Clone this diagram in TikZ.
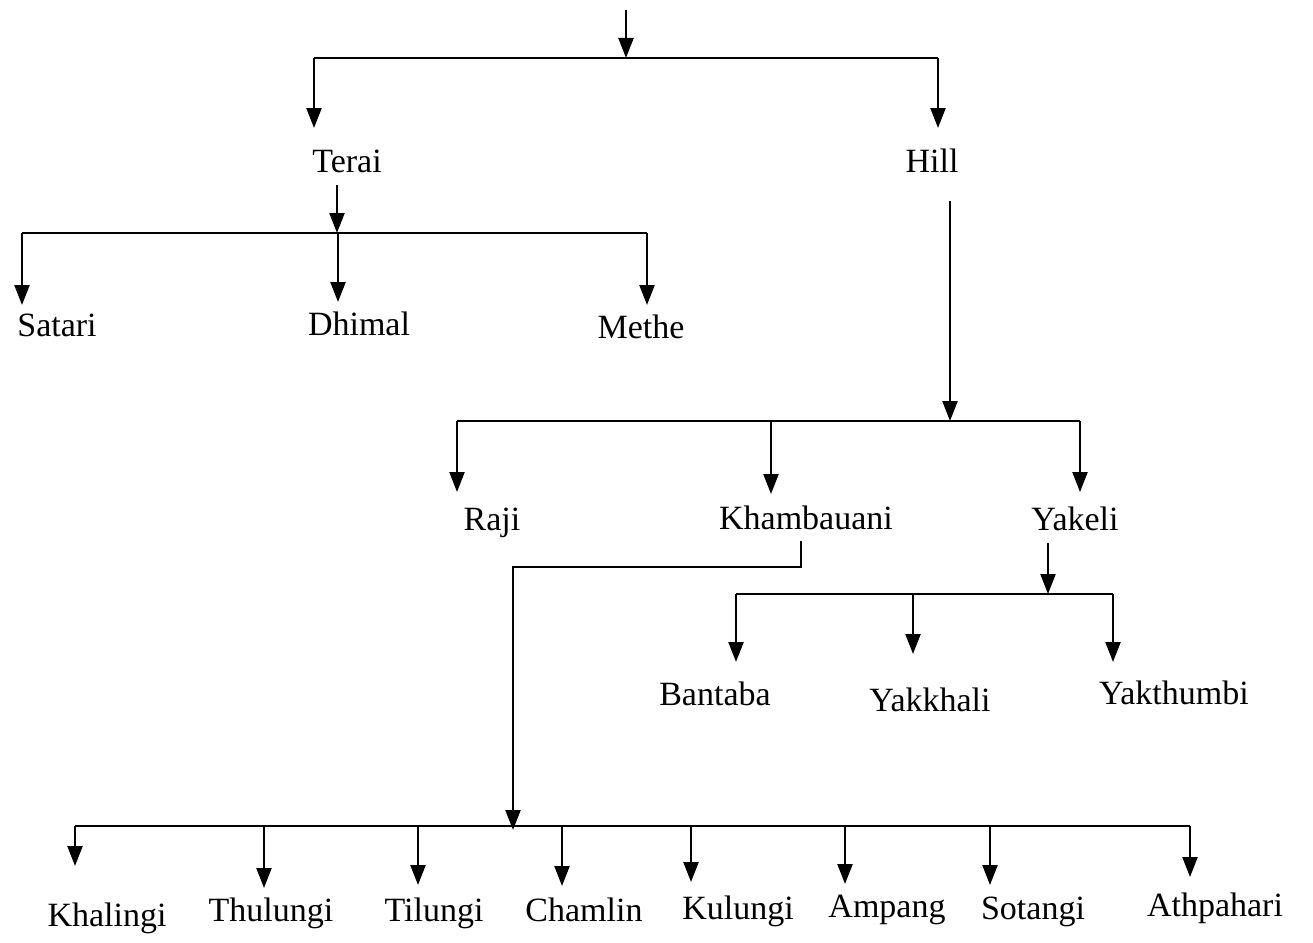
\documentclass[tikz,border=0pt]{standalone}
\usepackage{fontspec}
\setmainfont{Liberation Serif}
\usetikzlibrary{arrows.meta}
\tikzset{
  lbl/.style={anchor=base, inner sep=0pt, font=\fontsize{34}{40}\selectfont},
  ln/.style={line width=2.3pt},
  arr/.style={line width=2.3pt, -{Triangle[width=15pt,length=20pt]}},
}
\begin{document}
\begin{tikzpicture}[x=1pt,y=-1pt]
\useasboundingbox (0,0) rectangle (1313,942);
% labels
\node[lbl] (terai) at (347,172) {Terai};
\node[lbl] (hill) at (932,172) {Hill};
\node[lbl] (satari) at (57,336) {Satari};
\node[lbl] (dhimal) at (359,335) {Dhimal};
\node[lbl] (methe) at (641,338) {Methe};
\node[lbl] (raji) at (492,530) {Raji};
\node[lbl] (kham) at (806,529) {Khambauani};
\node[lbl] (yakeli) at (1075,530) {Yakeli};
\node[lbl] (bantaba) at (715,705) {Bantaba};
\node[lbl] (yakkhali) at (930,711) {Yakkhali};
\node[lbl] (yakthumbi) at (1174,704) {Yakthumbi};
\node[lbl] (khalingi) at (107,926) {Khalingi};
\node[lbl] (thulungi) at (271,921) {Thulungi};
\node[lbl] (tilungi) at (434,921) {Tilungi};
\node[lbl] (chamlin) at (584,921) {Chamlin};
\node[lbl] (kulungi) at (738,919) {Kulungi};
\node[lbl] (ampang) at (887,917) {Ampang};
\node[lbl] (sotangi) at (1033,919) {Sotangi};
\node[lbl] (athpahari) at (1215,916) {Athpahari};
% coordinates
\coordinate (top) at (626,10);
\coordinate (bus0) at (626,58);
\coordinate (teraiTip) at (314,128);
\coordinate (hillTip) at (938,128);
\coordinate (teraiOut) at (337,185);
\coordinate (bus1) at (337,233);
\coordinate (satariTip) at (22,305);
\coordinate (dhimalTip) at (338,302);
\coordinate (metheTip) at (647,305);
\coordinate (hillOut) at (950,201);
\coordinate (bus2) at (950,421);
\coordinate (rajiTip) at (457,492);
\coordinate (khamTip) at (771,494);
\coordinate (yakeliTip) at (1080,492);
\coordinate (khamOut) at (801,541);
\coordinate (khamBend) at (801,567);
\coordinate (bus4) at (513,830);
\coordinate (yakeliOut) at (1048,543);
\coordinate (bus3) at (1048,594);
\coordinate (bantabaTip) at (736,662);
\coordinate (yakkhaliTip) at (913,654);
\coordinate (yakthumbiTip) at (1113,662);
\coordinate (khalingiTip) at (75,866);
\coordinate (thulungiTip) at (264,888);
\coordinate (tilungiTip) at (418,885);
\coordinate (chamlinTip) at (562,886);
\coordinate (kulungiTip) at (691,882);
\coordinate (ampangTip) at (845,884);
\coordinate (sotangiTip) at (990,885);
\coordinate (athpahariTip) at (1190,877);
% top level
\draw[arr] (top) -- (bus0);
\draw[ln] (teraiTip |- bus0) -- (hillTip |- bus0);
\draw[arr] (teraiTip |- bus0) -- (teraiTip);
\draw[arr] (hillTip |- bus0) -- (hillTip);
% Terai
\draw[arr] (teraiOut) -- (bus1);
\draw[ln] (satariTip |- bus1) -- (metheTip |- bus1);
\draw[arr] (satariTip |- bus1) -- (satariTip);
\draw[arr] (dhimalTip |- bus1) -- (dhimalTip);
\draw[arr] (metheTip |- bus1) -- (metheTip);
% Hill
\draw[arr] (hillOut) -- (bus2);
\draw[ln] (rajiTip |- bus2) -- (yakeliTip |- bus2);
\draw[arr] (rajiTip |- bus2) -- (rajiTip);
\draw[arr] (khamTip |- bus2) -- (khamTip);
\draw[arr] (yakeliTip |- bus2) -- (yakeliTip);
% Yakeli
\draw[arr] (yakeliOut) -- (bus3);
\draw[ln] (bantabaTip |- bus3) -- (yakthumbiTip |- bus3);
\draw[arr] (bantabaTip |- bus3) -- (bantabaTip);
\draw[arr] (yakkhaliTip |- bus3) -- (yakkhaliTip);
\draw[arr] (yakthumbiTip |- bus3) -- (yakthumbiTip);
% Khambauani
\draw[arr] (khamOut) -- (khamBend) -| (bus4);
\coordinate (bus4l) at (75,826);
\draw[ln] (bus4l) -- (athpahariTip |- bus4l);
\draw[arr] (bus4l) -- (khalingiTip);
\draw[arr] (thulungiTip |- bus4l) -- (thulungiTip);
\draw[arr] (tilungiTip |- bus4l) -- (tilungiTip);
\draw[arr] (chamlinTip |- bus4l) -- (chamlinTip);
\draw[arr] (kulungiTip |- bus4l) -- (kulungiTip);
\draw[arr] (ampangTip |- bus4l) -- (ampangTip);
\draw[arr] (sotangiTip |- bus4l) -- (sotangiTip);
\draw[arr] (athpahariTip |- bus4l) -- (athpahariTip);
\end{tikzpicture}
\end{document}
